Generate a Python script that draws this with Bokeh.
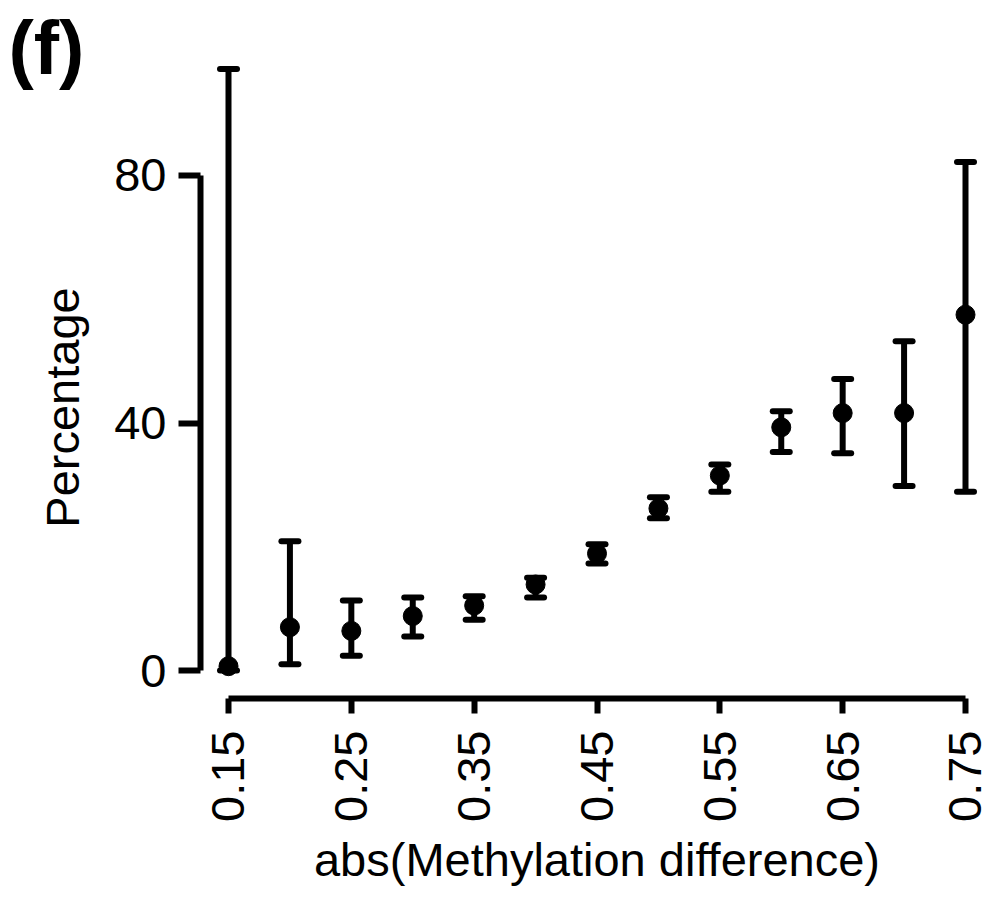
import math
from bokeh.plotting import figure
from bokeh.models import (FixedTicker, NumeralTickFormatter, Whisker, TeeHead,
                          ColumnDataSource, Label, Range1d, LinearAxis)
from bokeh.embed import file_html
from bokeh.resources import INLINE

# ---- data ----
meth_diff = [0.15, 0.20, 0.25, 0.30, 0.35, 0.40, 0.45, 0.50, 0.55, 0.60, 0.65, 0.70, 0.75]
percentage = [0.7, 7.0, 6.4, 8.8, 10.5, 13.9, 18.9, 26.2, 31.5, 39.3, 41.6, 41.6, 57.5]
upper = [97.2, 20.9, 11.3, 11.8, 12.0, 15.0, 20.4, 28.0, 33.3, 41.9, 47.1, 53.2, 82.2]
lower = [0.0, 1.0, 2.4, 5.5, 8.2, 11.8, 17.3, 24.6, 28.9, 35.3, 35.1, 29.8, 28.9]
x_ticks = [0.15, 0.25, 0.35, 0.45, 0.55, 0.65, 0.75]
y_ticks = [0, 40, 80]

FONT = "Liberation Sans"

src = ColumnDataSource(dict(x=meth_diff, y=percentage, upper=upper, lower=lower))

# frame covers the whole canvas; axes are drawn at fixed data locations (R-style detached axes)
p = figure(width=997, height=901, output_backend="svg", toolbar_location=None,
           x_range=Range1d(-0.03562, 0.77605), y_range=Range1d(-37.33, 108.28),
           x_axis_location=None, y_axis_location=None,
           min_border_left=0, min_border_right=0, min_border_top=0, min_border_bottom=0)
p.background_fill_color = "white"
p.border_fill_color = "white"
p.outline_line_color = None
p.grid.visible = False

# error bars
w = Whisker(base="x", upper="upper", lower="lower", source=src,
            line_width=6, line_color="black",
            upper_head=TeeHead(size=17, line_width=6, line_color="black", line_cap="round"),
            lower_head=TeeHead(size=17, line_width=6, line_color="black", line_cap="round"))
p.add_layout(w)

p.scatter("x", "y", source=src, size=19, color="black")

# x axis
xa = LinearAxis(fixed_location=-4.525)
xa.ticker = FixedTicker(ticks=x_ticks)
xa.formatter = NumeralTickFormatter(format="0.00")
xa.bounds = (x_ticks[0], x_ticks[-1])
xa.axis_line_width = 6
xa.major_tick_line_width = 6
xa.major_tick_out = 15
xa.major_tick_in = 0
xa.minor_tick_line_color = None
xa.major_label_orientation = math.pi / 2
xa.major_label_standoff = 17
xa.major_label_text_font = FONT
xa.major_label_text_font_size = "47px"
xa.major_label_text_color = "black"
xa.axis_label = "abs(Methylation difference)"
xa.axis_label_text_font = FONT
xa.axis_label_text_font_size = "47px"
xa.axis_label_text_font_style = "normal"
xa.axis_label_text_color = "black"
xa.axis_label_standoff = 8
p.add_layout(xa, "below")

# y axis
ya = LinearAxis(fixed_location=0.1272)
ya.ticker = FixedTicker(ticks=y_ticks)
ya.bounds = (y_ticks[0], y_ticks[-1])
ya.axis_line_width = 6
ya.major_tick_line_width = 6
ya.major_tick_out = 22
ya.major_tick_in = 0
ya.minor_tick_line_color = None
ya.major_label_standoff = 12
ya.major_label_text_font = FONT
ya.major_label_text_font_size = "47px"
ya.major_label_text_color = "black"
p.add_layout(ya, "left")

# y axis title
p.add_layout(Label(x=62, y=407, x_units="canvas", y_units="canvas",
                   text="Percentage", angle=math.pi / 2,
                   text_align="center", text_baseline="middle",
                   text_font=FONT, text_font_size="47px", text_color="black"))

# panel tag
p.add_layout(Label(x=8, y=4, x_units="canvas", y_units="canvas",
                   text="(f)", text_align="left", text_baseline="top",
                   text_font=FONT, text_font_size="76px", text_font_style="bold",
                   text_color="black"))

open("out.html", "w").write(file_html(p, INLINE))
